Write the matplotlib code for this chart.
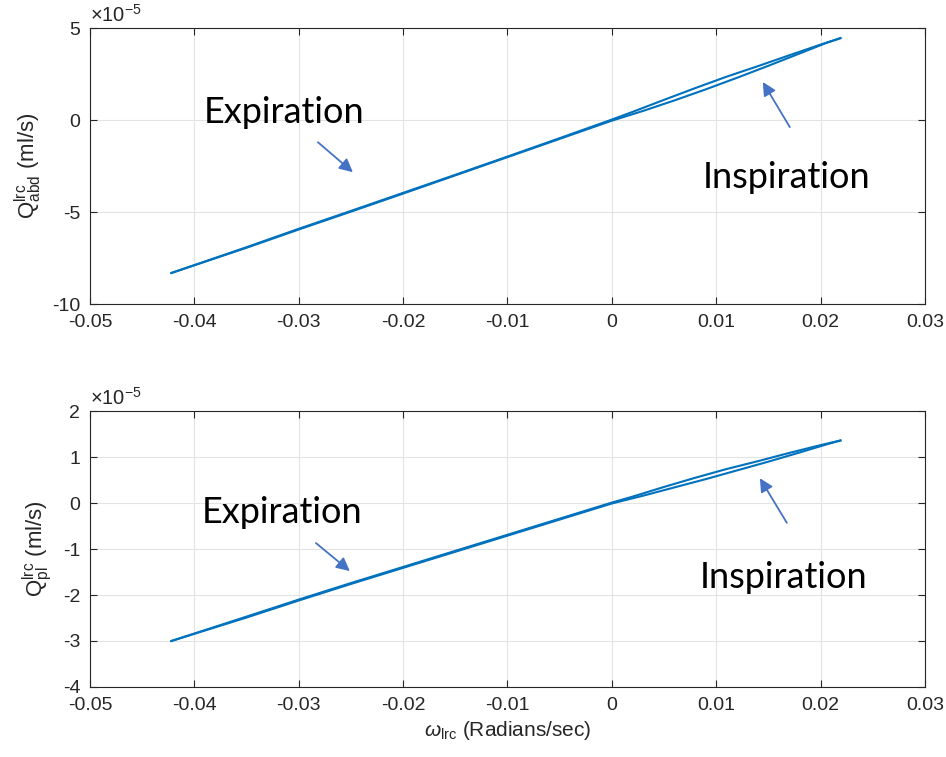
"""
Flow vs angular velocity loops (abdominal / pleural)
"""
import matplotlib.pyplot as plt

plt.rcParams['font.family'] = ['Liberation Sans', 'DejaVu Sans']
plt.rcParams['axes.unicode_minus'] = False
plt.rcParams['mathtext.fontset'] = 'custom'
plt.rcParams['mathtext.rm'] = 'Liberation Sans'
plt.rcParams['mathtext.it'] = 'Liberation Sans:italic'

# expiration branch (right -> left) and inspiration branch (left -> right)
x_exp = [0.0219, 0.020, 0.017, 0.014, 0.011, 0.008, 0.005, 0.002, 0.0,
         -0.005, -0.010, -0.015, -0.020, -0.025, -0.030, -0.035, -0.0422]
x_insp = [-0.0422, -0.035, -0.030, -0.025, -0.020, -0.015, -0.010, -0.005, 0.0,
          0.003, 0.006, 0.009, 0.012, 0.015, 0.018, 0.0205, 0.0219]

# values in units of 1e-5 ml/s
abd_exp = [4.45, 4.1, 3.52, 2.93, 2.36, 1.74, 1.1, 0.45, 0.03,
           -0.98, -1.98, -2.97, -3.95, -4.93, -5.9, -6.9, -8.3]
abd_insp = [-8.3, -6.93, -5.94, -4.97, -3.99, -3.0, -2.01, -1.02, -0.03,
            0.5, 1.07, 1.67, 2.3, 2.95, 3.62, 4.18, 4.45]
pl_exp = [1.36, 1.26, 1.09, 0.91, 0.74, 0.55, 0.35, 0.14, 0.01,
          -0.34, -0.69, -1.04, -1.39, -1.74, -2.1, -2.47, -3.0]
pl_insp = [-3.0, -2.49, -2.12, -1.76, -1.41, -1.06, -0.71, -0.36, -0.01,
           0.16, 0.34, 0.52, 0.71, 0.9, 1.1, 1.27, 1.36]

x_ticks = [-0.05, -0.04, -0.03, -0.02, -0.01, 0, 0.01, 0.02, 0.03]
x_ticklabels = ['-0.05', '-0.04', '-0.03', '-0.02', '-0.01', '0', '0.01', '0.02', '0.03']
abd_ticks = [-10, -5, 0, 5]
pl_ticks = [-4, -3, -2, -1, 0, 1, 2]

line_col = '#0072BD'
arrow_col = '#4472C4'
axis_col = '#262626'

fig = plt.figure(figsize=(9.46, 7.57), dpi=100)
ax1 = fig.add_axes([0.0951, 0.598, 0.8827, 0.365])
ax2 = fig.add_axes([0.0951, 0.0925, 0.8827, 0.3645])

panels = [
    (ax1, abd_exp, abd_insp, abd_ticks,
     r'Q$^{\rm lrc}_{\rm abd}$ (ml/s)',
     [(-0.0314, 0.43), (0.01676, -3.1)],
     [((-0.02816, -1.2), (-0.02481, -2.83)),
      ((0.01705, -0.38), (0.01446, 2.07))]),
    (ax2, pl_exp, pl_insp, pl_ticks,
     r'Q$^{\rm lrc}_{\rm pl}$ (ml/s)',
     [(-0.0316, -0.196), (0.01648, -1.61)],
     [((-0.02835, -0.87), (-0.02510, -1.48)),
      ((0.01676, -0.43), (0.01418, 0.54))]),
]

for ax, y_exp, y_insp, yticks, ylabel, txt_pos, arrows in panels:
    ax.plot(x_exp, y_exp, color=line_col, lw=1.5)
    ax.plot(x_insp, y_insp, color=line_col, lw=1.5)
    ax.set_xlim(-0.05, 0.03)
    ax.set_ylim(yticks[0], yticks[-1])
    ax.set_xticks(x_ticks)
    ax.set_xticklabels(x_ticklabels)
    ax.set_yticks(yticks)
    ax.set_yticklabels([str(t) for t in yticks])
    ax.text(0.0, 1.008, r'$\times$10$^{-5}$', transform=ax.transAxes,
            fontsize=14.5, color=axis_col, ha='left', va='bottom')
    ax.grid(True, color='#e3e3e3', lw=0.8)
    ax.set_axisbelow(True)
    ax.tick_params(direction='in', length=5, labelsize=14, colors=axis_col,
                   top=True, right=True, pad=7)
    for sp in ax.spines.values():
        sp.set_color(axis_col)
        sp.set_linewidth(0.8)
    ax.set_ylabel(ylabel, fontsize=16, color=axis_col, labelpad=6)

    ax.text(txt_pos[0][0], txt_pos[0][1], 'Expiration', fontsize=26,
            family='Lato', ha='center', va='center')
    ax.text(txt_pos[1][0], txt_pos[1][1], 'Inspiration', fontsize=26,
            family='Lato', ha='center', va='center')
    for start, end in arrows:
        ax.annotate('', xy=end, xytext=start,
                    arrowprops=dict(arrowstyle='-|>', color=arrow_col, lw=1.3,
                                    mutation_scale=20, shrinkA=0, shrinkB=0))

ax2.set_xlabel(r'$\omega_{\rm lrc}$ (Radians/sec)', fontsize=15, color=axis_col)

fig.savefig('out.png', dpi=100)
